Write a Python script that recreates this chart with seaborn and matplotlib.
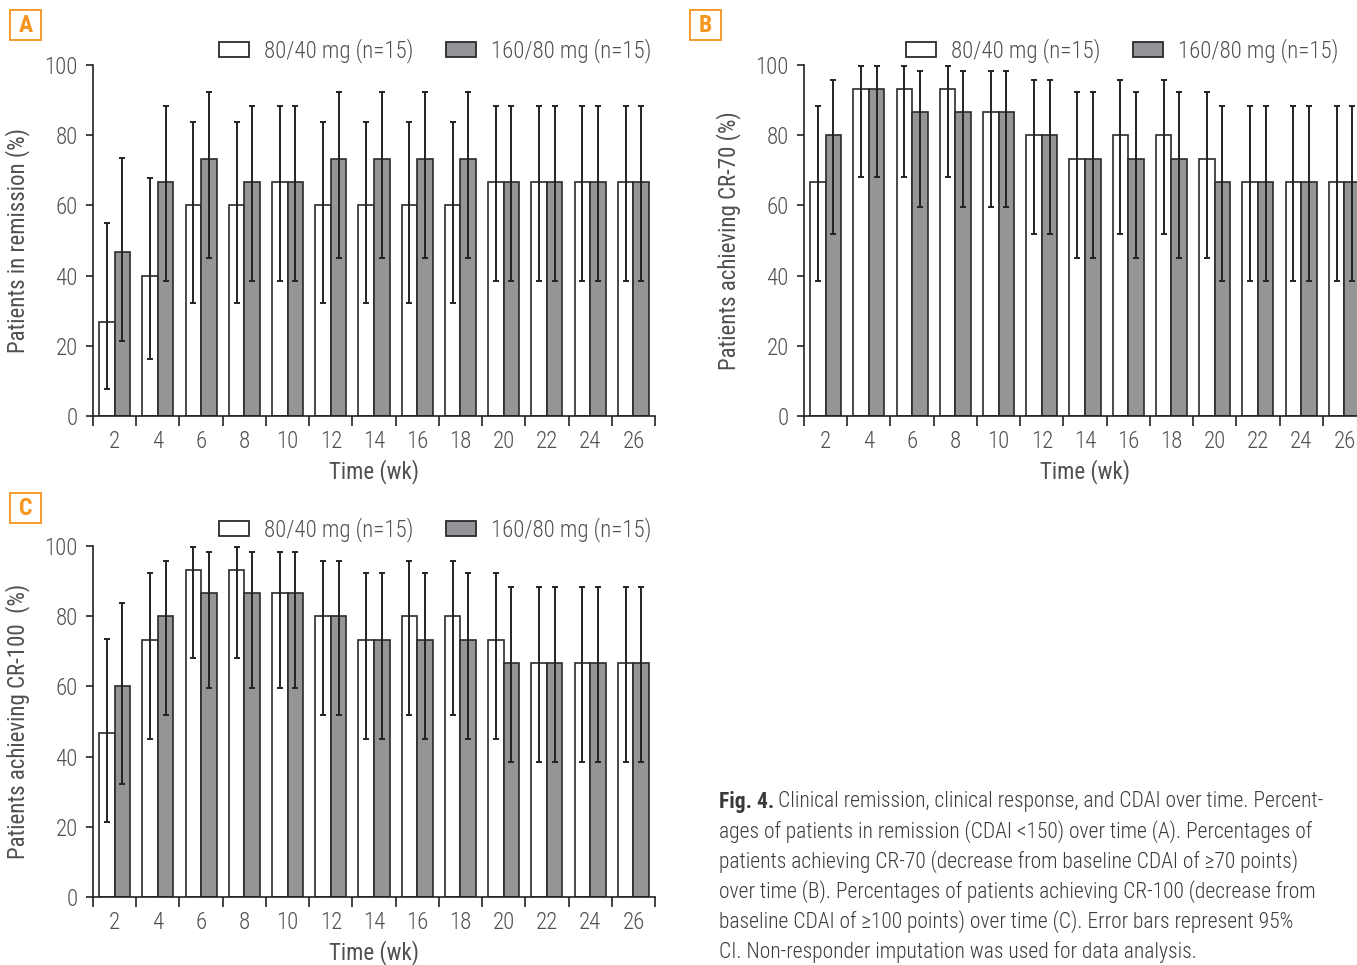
import numpy as np
import pandas as pd
import seaborn as sns
import matplotlib.pyplot as plt
import matplotlib.patches as mpatches
from matplotlib import font_manager as fm
from matplotlib.textpath import TextPath

# Data (n=15 per arm, values in %)
weeks = ['2', '4', '6', '8', '10', '12', '14', '16', '18', '20', '22', '24', '26']
groups = ['80/40 mg (n=15)', '160/80 mg (n=15)']

# A - remission
a_low = [26.7, 40.0, 60.0, 60.0, 66.7, 60.0, 60.0, 60.0, 60.0, 66.7, 66.7, 66.7, 66.7]
a_low_ci_lo = [7.8, 16.3, 32.3, 32.3, 38.4, 32.3, 32.3, 32.3, 32.3, 38.4, 38.4, 38.4, 38.4]
a_low_ci_hi = [55.1, 67.7, 83.7, 83.7, 88.2, 83.7, 83.7, 83.7, 83.7, 88.2, 88.2, 88.2, 88.2]
a_high = [46.7, 66.7, 73.3, 66.7, 66.7, 73.3, 73.3, 73.3, 73.3, 66.7, 66.7, 66.7, 66.7]
a_high_ci_lo = [21.3, 38.4, 44.9, 38.4, 38.4, 44.9, 44.9, 44.9, 44.9, 38.4, 38.4, 38.4, 38.4]
a_high_ci_hi = [73.4, 88.2, 92.2, 88.2, 88.2, 92.2, 92.2, 92.2, 92.2, 88.2, 88.2, 88.2, 88.2]

# B - CR-70
b_low = [66.7, 93.3, 93.3, 93.3, 86.7, 80.0, 73.3, 80.0, 80.0, 73.3, 66.7, 66.7, 66.7]
b_low_ci_lo = [38.4, 68.1, 68.1, 68.1, 59.5, 51.9, 44.9, 51.9, 51.9, 44.9, 38.4, 38.4, 38.4]
b_low_ci_hi = [88.2, 99.8, 99.8, 99.8, 98.3, 95.7, 92.2, 95.7, 95.7, 92.2, 88.2, 88.2, 88.2]
b_high = [80.0, 93.3, 86.7, 86.7, 86.7, 80.0, 73.3, 73.3, 73.3, 66.7, 66.7, 66.7, 66.7]
b_high_ci_lo = [51.9, 68.1, 59.5, 59.5, 59.5, 51.9, 44.9, 44.9, 44.9, 38.4, 38.4, 38.4, 38.4]
b_high_ci_hi = [95.7, 99.8, 98.3, 98.3, 98.3, 95.7, 92.2, 92.2, 92.2, 88.2, 88.2, 88.2, 88.2]

# C - CR-100
c_low = [46.7, 73.3, 93.3, 93.3, 86.7, 80.0, 73.3, 80.0, 80.0, 73.3, 66.7, 66.7, 66.7]
c_low_ci_lo = [21.3, 44.9, 68.1, 68.1, 59.5, 51.9, 44.9, 51.9, 51.9, 44.9, 38.4, 38.4, 38.4]
c_low_ci_hi = [73.4, 92.2, 99.8, 99.8, 98.3, 95.7, 92.2, 95.7, 95.7, 92.2, 88.2, 88.2, 88.2]
c_high = [60.0, 80.0, 86.7, 86.7, 86.7, 80.0, 73.3, 73.3, 73.3, 66.7, 66.7, 66.7, 66.7]
c_high_ci_lo = [32.3, 51.9, 59.5, 59.5, 59.5, 51.9, 44.9, 44.9, 44.9, 38.4, 38.4, 38.4, 38.4]
c_high_ci_hi = [83.7, 95.7, 98.3, 98.3, 98.3, 95.7, 92.2, 92.2, 92.2, 88.2, 88.2, 88.2, 88.2]

caption_first = 'Clinical remission, clinical response, and CDAI over time. Percent-'
caption_lines = [
    'ages of patients in remission (CDAI <150) over time (A). Percentages of',
    'patients achieving CR-70 (decrease from baseline CDAI of \u226570 points)',
    'over time (B). Percentages of patients achieving CR-100 (decrease from',
    'baseline CDAI of \u2265100 points) over time (C). Error bars represent 95%',
    'CI. Non-responder imputation was used for data analysis.',
]

sns.set_style('ticks')
# pick a narrow face if the box has one
installed = {f.name for f in fm.fontManager.ttflist}
family = 'DejaVu Sans'
for cand in ['Liberation Sans Narrow', 'DejaVu Sans Condensed', 'Roboto Condensed',
             'Open Sans Condensed', 'Noto Sans Condensed']:
    if cand in installed:
        family = cand
        break
plt.rcParams['font.family'] = [family, 'DejaVu Sans']
plt.rcParams['font.weight'] = 'light'

DPI = 100


def fit_size(s, target_px, weight='light'):
    # font size (pt) that makes string s about target_px wide
    prop = fm.FontProperties(family=[family, 'DejaVu Sans'], weight=weight)
    w = TextPath((0, 0), s, size=10, prop=prop).get_extents().width * DPI / 72
    return 10 * target_px / w


tick_fs = min(16.5, fit_size('100', 33))
leg_fs = min(16.5, fit_size(groups[0], 160))
lab_fs = min(16.5, fit_size('Patients in remission (%)', 227))
cap_fs = min(15.5, fit_size(max(caption_lines, key=len), 630))

text_col = '#505050'
bar_cols = ['#ffffff', '#939598']
edge_col = '#2b2b2b'
orange = '#f7941d'

W, H = 1357, 965
fig = plt.figure(figsize=(W / DPI, H / DPI), dpi=DPI)


def px_ax(left, right, top, bottom):
    return fig.add_axes([left / W, 1 - bottom / H, (right - left) / W, (bottom - top) / H])


def draw_panel(ax, low, lo_lo, lo_hi, high, hi_lo, hi_hi, ylabel):
    df = pd.DataFrame({
        'week': weeks * 2,
        'group': [groups[0]] * len(weeks) + [groups[1]] * len(weeks),
        'value': low + high,
    })
    sns.barplot(data=df, x='week', y='value', hue='group', order=weeks,
                hue_order=groups, palette=bar_cols, width=0.72,
                edgecolor=edge_col, linewidth=1.2, legend=False, ax=ax,
                errorbar=None)
    # error bars on each bar centre
    for cont, vals, lo, hi in zip(ax.containers, [low, high], [lo_lo, hi_lo], [lo_hi, hi_hi]):
        xs = [b.get_x() + b.get_width() / 2 for b in cont]
        v = np.array(vals)
        ax.errorbar(xs, v, yerr=[v - np.array(lo), np.array(hi) - v], fmt='none',
                    ecolor='#222222', elinewidth=1.4, capsize=2.5, capthick=1.4, zorder=5)
    ax.set_xlim(-0.5, 12.5)
    ax.set_ylim(0, 100)
    ax.set_yticks([0, 20, 40, 60, 80, 100])
    ax.set_xticks(np.arange(-0.5, 13, 1))
    ax.set_xticklabels([])
    ax.set_xticks(range(len(weeks)), minor=True)
    ax.set_xticklabels(weeks, minor=True)
    ax.tick_params(axis='x', which='major', length=7, width=1.2, color='#222222')
    ax.tick_params(axis='x', which='minor', length=0, pad=10, labelsize=tick_fs, labelcolor=text_col)
    ax.tick_params(axis='y', length=5, width=1.2, color='#222222', pad=6,
                   labelsize=tick_fs, labelcolor=text_col)
    sns.despine(ax=ax)
    for s in ['left', 'bottom']:
        ax.spines[s].set_color('#222222')
        ax.spines[s].set_linewidth(1.2)
    ax.set_ylabel(ylabel, fontsize=lab_fs, color=text_col)
    ax.yaxis.set_label_coords(-0.112, 0.5)
    ax.set_xlabel('Time (wk)', fontsize=lab_fs, color=text_col)
    ax.xaxis.set_label_coords(0.5, -0.124)


def add_legend(right, ymid):
    em = leg_fs * DPI / 72
    handles = [mpatches.Patch(facecolor=c, edgecolor=edge_col, linewidth=1.3) for c in bar_cols]
    fig.legend(handles, groups, loc='center right', bbox_to_anchor=(right / W, 1 - ymid / H),
               ncol=2, frameon=False, fontsize=leg_fs, labelcolor=text_col,
               handlelength=30 / em, handleheight=15 / em,
               handletextpad=15 / em, columnspacing=32 / em,
               borderpad=0, borderaxespad=0)


def add_letter(x0, y0, letter):
    # orange boxed panel letter, box given in pixels (top-left corner)
    fig.patches.append(mpatches.Rectangle((x0 / W, 1 - (y0 + 30) / H), 31 / W, 30 / H,
                                          transform=fig.transFigure, facecolor='white',
                                          edgecolor=orange, linewidth=1.3))
    fig.text((x0 + 15.5) / W, 1 - (y0 + 15.5) / H, letter, color=orange, fontsize=17,
             fontweight='bold', ha='center', va='center')


axA = px_ax(93, 655, 65, 416)
draw_panel(axA, a_low, a_low_ci_lo, a_low_ci_hi, a_high, a_high_ci_lo, a_high_ci_hi,
           'Patients in remission (%)')
add_legend(651, 51)
add_letter(10, 10, 'A')

axB = px_ax(804, 1366, 65, 416)
draw_panel(axB, b_low, b_low_ci_lo, b_low_ci_hi, b_high, b_high_ci_lo, b_high_ci_hi,
           'Patients achieving CR-70 (%)')
add_legend(1338, 51)
add_letter(690, 10, 'B')

axC = px_ax(93, 655, 546, 897)
draw_panel(axC, c_low, c_low_ci_lo, c_low_ci_hi, c_high, c_high_ci_lo, c_high_ci_hi,
           'Patients achieving CR-100  (%)')
add_legend(651, 530)
add_letter(10, 493, 'C')

# caption
t = fig.text(719 / W, 1 - 802 / H, 'Fig. 4.', fontsize=cap_fs, fontweight='bold',
             color='#3a3a3a', ha='left', va='center')
renderer = fig.canvas.get_renderer()
bb = t.get_window_extent(renderer)
fig.text((bb.x1 + 4) / W, 1 - 802 / H, caption_first,
         fontsize=cap_fs, color='#3a3a3a', ha='left', va='center')
for i, line in enumerate(caption_lines):
    fig.text(719 / W, 1 - (832 + 30 * i) / H, line, fontsize=cap_fs,
             color='#3a3a3a', ha='left', va='center')

fig.savefig('out.png', dpi=DPI)
